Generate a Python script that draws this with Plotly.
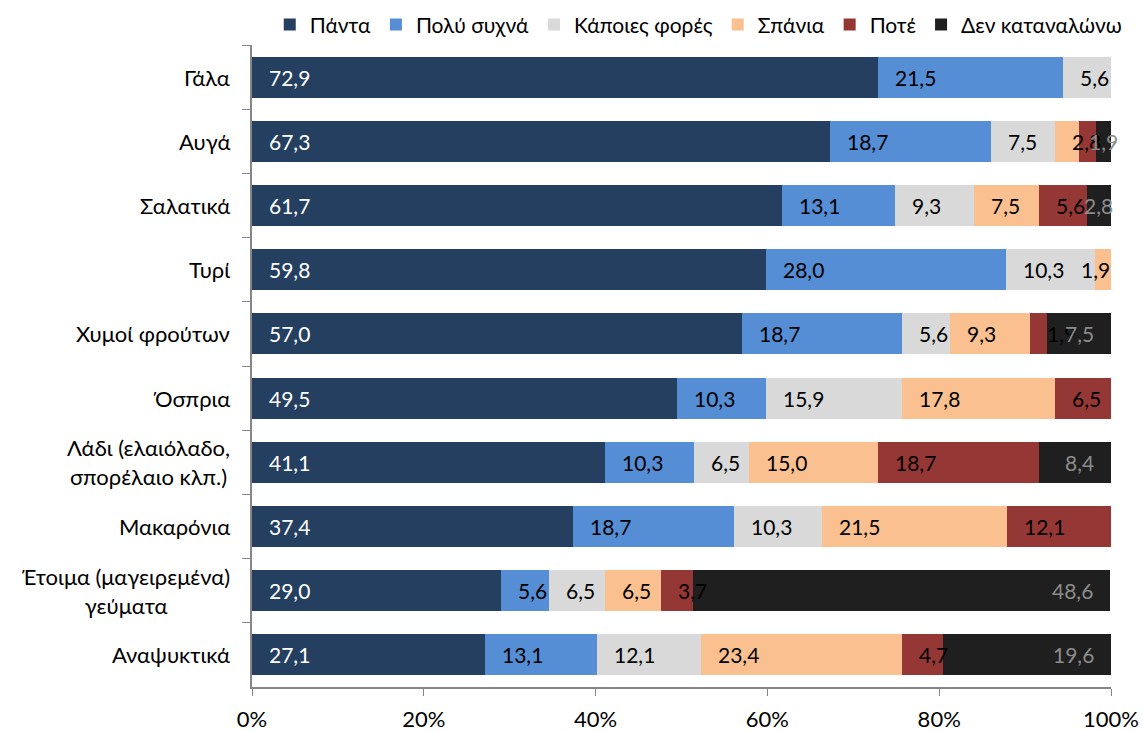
import plotly.graph_objects as go

categories = ["Γάλα", "Αυγά", "Σαλατικά", "Τυρί", "Χυμοί φρούτων", "Όσπρια",
              "Λάδι (ελαιόλαδο,<br>σπορέλαιο κλπ.)", "Μακαρόνια",
              "Έτοιμα (μαγειρεμένα)<br>γεύματα", "Αναψυκτικά"]

series_names = ["Πάντα", "Πολύ συχνά", "Κάποιες φορές", "Σπάνια", "Ποτέ", "Δεν καταναλώνω"]

always      = [72.9, 67.3, 61.7, 59.8, 57.0, 49.5, 41.1, 37.4, 29.0, 27.1]
very_often  = [21.5, 18.7, 13.1, 28.0, 18.7, 10.3, 10.3, 18.7, 5.6, 13.1]
sometimes   = [5.6, 7.5, 9.3, 10.3, 5.6, 15.9, 6.5, 10.3, 6.5, 12.1]
rarely      = [0.0, 2.8, 7.5, 1.9, 9.3, 17.8, 15.0, 21.5, 6.5, 23.4]
never       = [0.0, 1.9, 5.6, 0.0, 1.9, 6.5, 18.7, 12.1, 3.7, 4.7]
not_consume = [0.0, 1.9, 2.8, 0.0, 7.5, 0.0, 8.4, 0.0, 48.6, 19.6]

x_tick_vals = [0, 20, 40, 60, 80, 100]
x_tick_text = ["0%", "20%", "40%", "60%", "80%", "100%"]

colors = ["#243F60", "#558ED5", "#D9D9D9", "#FAC090", "#953735", "#1F1F1F"]
text_colors = ["#FFFFFF", "#000000", "#000000", "#000000", "#000000", "#8C8C8C"]
# labels not shown in the original (value too small to print)
hidden = {(4, 1)}

FONT = "Lato, 'Noto Sans', sans-serif"
W, H = 1143, 731
ML, MR, MT, MB = 252, 32, 45, 44
LABEL_SIZE = 21
LABEL_PAD = 16          # px between bar edge and its label
TEXT_W = 30             # approx px width of a "d,d" label

def fmt(v):
    return ("%.1f" % v).replace(".", ",")

fig = go.Figure()
all_series = [always, very_often, sometimes, rarely, never, not_consume]
for si, (name, vals) in enumerate(zip(series_names, all_series)):
    fig.add_trace(go.Bar(
        y=categories, x=vals, name=name, orientation="h",
        marker=dict(color=colors[si], line=dict(width=0)),
        hoverinfo="skip",
    ))

# data labels (drawn above all bars, positioned from the cumulative values)
px_per_unit = (W - ML - MR) / 100.0
for ci, cat in enumerate(categories):
    start = 0.0
    for si, vals in enumerate(all_series):
        v = vals[ci]
        end = round(start + v, 6)
        if v > 0 and (si, ci) not in hidden:
            seg_px = v * px_per_unit
            if si == len(all_series) - 1:
                if seg_px >= TEXT_W + LABEL_PAD:
                    ax, anchor, shift = min(end, 100), "right", -LABEL_PAD
                else:
                    ax, anchor, shift = (start + end) / 2, "center", 0
            else:
                room = (100 - start) * px_per_unit
                if room >= TEXT_W + LABEL_PAD:
                    ax, anchor, shift = start, "left", LABEL_PAD
                else:
                    ax, anchor, shift = 100, "right", 0
            fig.add_annotation(x=ax, y=cat, xref="x", yref="y", text=fmt(v),
                               xanchor=anchor, yanchor="middle", xshift=shift,
                               showarrow=False, borderpad=0,
                               font=dict(size=LABEL_SIZE, color=text_colors[si], family=FONT))
        start = end

for cat in categories:
    fig.add_annotation(x=0, y=cat, xref="paper", yref="y", text=cat,
                       xanchor="right", yanchor="middle", align="center",
                       xshift=-20, showarrow=False,
                       font=dict(size=22, color="#000000", family=FONT))

fig.update_layout(
    width=W, height=H,
    barmode="stack", bargap=0.36,
    plot_bgcolor="white", paper_bgcolor="white",
    margin=dict(l=ML, r=MR, t=MT, b=MB, autoexpand=False),
    font=dict(family=FONT, size=21, color="#000000"),
    showlegend=True,
    legend=dict(orientation="h", xref="container", yref="container",
                x=0.236, xanchor="left", y=0.966, yanchor="middle",
                traceorder="normal", itemwidth=30, font=dict(size=21),
                bgcolor="rgba(0,0,0,0)"),
    xaxis=dict(range=[0, 100], tickvals=x_tick_vals, ticktext=x_tick_text,
               showgrid=False, zeroline=False, showline=True, linecolor="#868686",
               linewidth=1.5, ticks="outside", ticklen=7, tickcolor="#868686",
               tickfont=dict(size=22), ticklabelstandoff=5),
    yaxis=dict(autorange="reversed", showgrid=False, zeroline=False,
               showline=True, linecolor="#868686", linewidth=1.5,
               ticks="outside", tickson="boundaries", ticklen=8,
               tickcolor="#868686", showticklabels=False),
)

fig.write_html("out.html")
